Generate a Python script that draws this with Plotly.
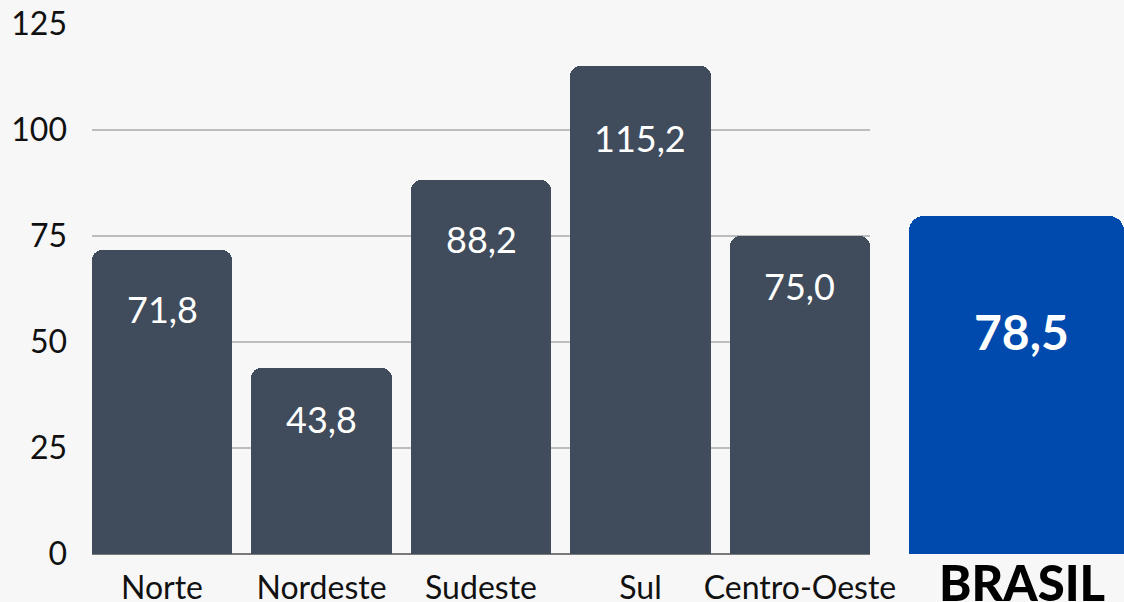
import plotly.graph_objects as go

regions = ["Norte", "Nordeste", "Sudeste", "Sul", "Centro-Oeste"]
values = [71.8, 43.8, 88.2, 115.2, 75.0]
brasil_label = "BRASIL"
brasil_value = 78.5
y_ticks = [0, 25, 50, 75, 100, 125]

# styling: vertical offset (px) of each value label below its bar top
label_offsets_px = [-59, -51, -59, -72, -50]

def fmt(v):
    return f"{v:.1f}".replace(".", ",")

BG = "#f7f7f7"
DARK = "#404c5b"
BLUE = "#004aad"
FONT = "Lato"

fig = go.Figure()
xs = list(range(len(regions)))
fig.add_trace(go.Bar(
    x=xs, y=values, width=0.878, marker=dict(color=DARK, cornerradius=10, line=dict(width=0)),
    xaxis="x", yaxis="y", hoverinfo="skip", showlegend=False,
))
fig.add_trace(go.Bar(
    x=[0], y=[brasil_value], width=1.0, marker=dict(color=BLUE, cornerradius=15, line=dict(width=0)),
    xaxis="x2", yaxis="y2", hoverinfo="skip", showlegend=False,
))

annotations = []
for x, v, off in zip(xs, values, label_offsets_px):
    annotations.append(dict(x=x, y=v, xref="x", yref="y", text=fmt(v), showarrow=False,
                            yshift=off, font=dict(family=FONT, size=36, color="white")))
annotations.append(dict(x=0, y=brasil_value, xref="x2", yref="y2", text=fmt(brasil_value),
                        showarrow=False, yshift=-115, xshift=5,
                        font=dict(family=FONT, size=48, color="white", weight="bold")))
# BRASIL label under its bar
annotations.append(dict(x=0, y=0, xref="x2", yref="paper", text=brasil_label, showarrow=False,
                        yanchor="top", yshift=3, xshift=5,
                        font=dict(family=FONT, size=49, color="#000", weight=900)))

split = (870 - 92) / (1124 - 92)
fig.update_layout(
    width=1124, height=602, autosize=False,
    margin=dict(l=92, r=0, t=24, b=48, autoexpand=False),
    paper_bgcolor=BG, plot_bgcolor=BG,
    bargap=0,
    annotations=annotations,
    xaxis=dict(domain=[0, split], range=[-0.439, 4.439], tickvals=xs, ticktext=regions,
               showgrid=False, zeroline=False, showline=False, ticks="", automargin=False,
               tickfont=dict(family=FONT, size=32, color="#111"), ticklabelstandoff=12),
    yaxis=dict(range=[0, 125], tickvals=y_ticks, showgrid=True, gridcolor="#bdbdbd", gridwidth=2,
               zeroline=True, zerolinecolor="#7a7a7a", zerolinewidth=2, showline=False, automargin=False,
               tickfont=dict(family=FONT, size=32, color="#111"), ticklabelstandoff=24),
    xaxis2=dict(domain=[(909 - 92) / (1124 - 92), 1], anchor="y2", range=[-0.5, 0.5], automargin=False,
                showticklabels=False, showgrid=False, zeroline=False, ticks=""),
    yaxis2=dict(anchor="x2", domain=[0, 1], range=[0, 123.1], showgrid=False, zeroline=False,
                showticklabels=False, showline=False, automargin=False),
)

fig.write_html(
    "out.html",
    config={"displayModeBar": False, "responsive": False},
    post_script="document.body.style.margin='0';document.body.style.overflow='hidden';"
                "document.documentElement.style.overflow='hidden';",
)
